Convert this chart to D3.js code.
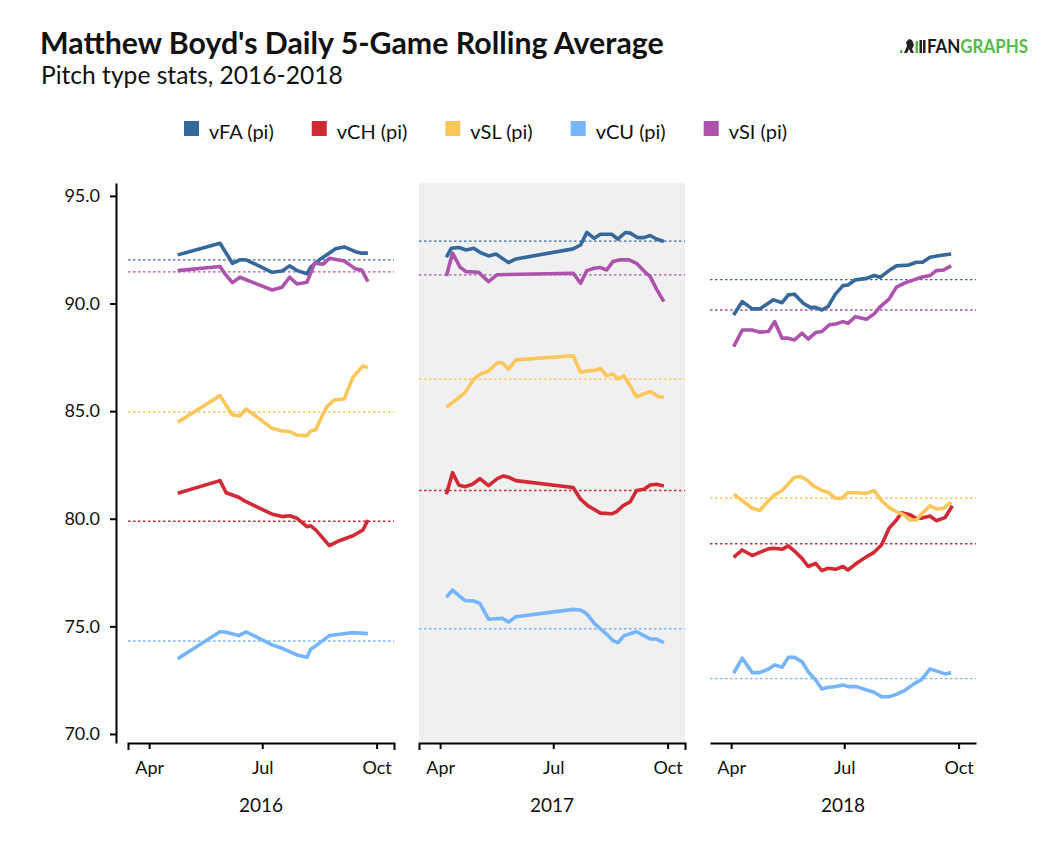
<!DOCTYPE html>
<meta charset="utf-8">
<html>
<head>
<script src="https://d3js.org/d3.v7.min.js"></script>
<style>
  body { margin: 0; background: #fff; }
  svg text { font-family: Lato, "Open Sans", sans-serif; }
  .axis path, .axis line { stroke: #000; stroke-width: 2; }
  .axis text { font-size: 18px; fill: #111; }
</style>
</head>
<body>
<div id="chart"></div>
<script>
// pitch types, in legend order
const pitches = ["FA", "CH", "SL", "CU", "SI"];
const labels = ["vFA (pi)", "vCH (pi)", "vSL (pi)", "vCU (pi)", "vSI (pi)"];
const colors = ["#35689b", "#d12a35", "#fcc65a", "#76b5fa", "#ad53ad"];
const years = [2016, 2017, 2018];
const yTicks = [70, 75, 80, 85, 90, 95];

// 5-game rolling averages
const fa2016 = [["2016-04-24",92.26],["2016-05-28",92.80],["2016-06-07",91.87],["2016-06-13",92.03],["2016-06-18",92.03],["2016-07-09",91.45],["2016-07-17",91.51],["2016-07-23",91.75],["2016-07-29",91.53],["2016-08-06",91.38],["2016-08-09",91.69],["2016-08-16",92.03],["2016-08-29",92.54],["2016-09-05",92.63],["2016-09-14",92.41],["2016-09-19",92.34],["2016-09-24",92.34]];
const ch2016 = [["2016-04-24",81.18],["2016-05-28",81.77],["2016-06-02",81.21],["2016-06-12",81.00],["2016-06-18",80.79],["2016-07-09",80.21],["2016-07-17",80.10],["2016-07-23",80.14],["2016-07-29",80.02],["2016-08-06",79.63],["2016-08-09",79.67],["2016-08-13",79.48],["2016-08-24",78.75],["2016-09-01",78.98],["2016-09-12",79.21],["2016-09-20",79.48],["2016-09-24",79.94]];
const sl2016 = [["2016-04-24",84.48],["2016-05-28",85.72],["2016-06-07",84.82],["2016-06-13",84.78],["2016-06-18",85.10],["2016-07-09",84.20],["2016-07-17",84.08],["2016-07-23",84.05],["2016-07-29",83.89],["2016-08-06",83.86],["2016-08-09",84.08],["2016-08-13",84.13],["2016-08-18",84.75],["2016-08-22",85.21],["2016-08-28",85.52],["2016-09-05",85.57],["2016-09-12",86.58],["2016-09-20",87.10],["2016-09-24",87.02]];
const cu2016 = [["2016-04-24",73.49],["2016-05-28",74.75],["2016-06-01",74.74],["2016-06-12",74.57],["2016-06-18",74.74],["2016-07-09",74.14],["2016-07-17",73.98],["2016-07-29",73.67],["2016-08-06",73.56],["2016-08-09",73.94],["2016-08-13",74.09],["2016-08-24",74.57],["2016-09-01",74.63],["2016-09-12",74.71],["2016-09-24",74.66]];
const si2016 = [["2016-04-24",91.53],["2016-05-28",91.72],["2016-06-01",91.38],["2016-06-07",90.97],["2016-06-13",91.22],["2016-07-09",90.63],["2016-07-17",90.76],["2016-07-23",91.22],["2016-07-29",90.91],["2016-08-06",90.99],["2016-08-09",91.41],["2016-08-12",91.87],["2016-08-19",91.83],["2016-08-24",92.10],["2016-09-05",91.98],["2016-09-14",91.61],["2016-09-19",91.56],["2016-09-24",91.02]];

const fa2017 = [["2017-04-06",92.15],["2017-04-10",92.57],["2017-04-16",92.60],["2017-04-22",92.49],["2017-04-28",92.57],["2017-05-03",92.38],["2017-05-10",92.21],["2017-05-16",92.30],["2017-05-26",91.90],["2017-06-01",92.07],["2017-07-17",92.54],["2017-07-23",92.72],["2017-07-28",93.30],["2017-08-03",93.03],["2017-08-08",93.22],["2017-08-17",93.22],["2017-08-22",92.99],["2017-08-28",93.30],["2017-09-01",93.27],["2017-09-07",93.06],["2017-09-12",93.06],["2017-09-17",93.16],["2017-09-22",93.00],["2017-09-28",92.88]];
const ch2017 = [["2017-04-06",81.14],["2017-04-11",82.14],["2017-04-16",81.57],["2017-04-21",81.49],["2017-04-27",81.60],["2017-05-03",81.86],["2017-05-10",81.54],["2017-05-17",81.86],["2017-05-22",81.99],["2017-05-26",81.93],["2017-06-01",81.77],["2017-07-17",81.45],["2017-07-23",80.91],["2017-07-29",80.60],["2017-08-08",80.26],["2017-08-17",80.23],["2017-08-21",80.33],["2017-08-26",80.60],["2017-09-01",80.79],["2017-09-06",81.31],["2017-09-12",81.37],["2017-09-17",81.57],["2017-09-22",81.60],["2017-09-28",81.52]];
const sl2017 = [["2017-04-06",85.18],["2017-04-12",85.44],["2017-04-21",85.86],["2017-04-28",86.48],["2017-05-03",86.71],["2017-05-10",86.87],["2017-05-17",87.25],["2017-05-21",87.25],["2017-05-26",86.95],["2017-06-01",87.38],["2017-07-17",87.57],["2017-07-23",86.81],["2017-07-29",86.88],["2017-08-03",86.88],["2017-08-08",86.99],["2017-08-13",86.64],["2017-08-18",86.73],["2017-08-22",86.50],["2017-08-27",86.64],["2017-09-06",85.67],["2017-09-17",85.91],["2017-09-24",85.67],["2017-09-28",85.64]];
const cu2017 = [["2017-04-06",76.35],["2017-04-11",76.69],["2017-04-17",76.38],["2017-04-21",76.20],["2017-04-28",76.18],["2017-05-03",76.07],["2017-05-10",75.33],["2017-05-21",75.38],["2017-05-26",75.20],["2017-06-01",75.45],["2017-07-17",75.79],["2017-07-23",75.76],["2017-07-28",75.58],["2017-08-03",75.14],["2017-08-09",74.83],["2017-08-13",74.63],["2017-08-18",74.34],["2017-08-22",74.24],["2017-08-27",74.57],["2017-09-06",74.75],["2017-09-12",74.57],["2017-09-17",74.41],["2017-09-22",74.41],["2017-09-28",74.24]];
const si2017 = [["2017-04-06",91.28],["2017-04-11",92.34],["2017-04-17",91.69],["2017-04-22",91.48],["2017-05-02",91.45],["2017-05-10",91.02],["2017-05-17",91.34],["2017-07-17",91.41],["2017-07-23",90.94],["2017-07-28",91.53],["2017-08-03",91.64],["2017-08-08",91.67],["2017-08-13",91.56],["2017-08-18",91.95],["2017-08-24",92.03],["2017-08-31",92.03],["2017-09-06",91.87],["2017-09-12",91.51],["2017-09-17",91.25],["2017-09-22",90.68],["2017-09-28",90.09]];

const fa2018 = [["2018-04-03",89.47],["2018-04-10",90.09],["2018-04-18",89.75],["2018-04-24",89.75],["2018-04-30",89.98],["2018-05-05",90.17],["2018-05-12",90.04],["2018-05-17",90.40],["2018-05-22",90.43],["2018-05-29",90.01],["2018-06-04",89.81],["2018-06-08",89.82],["2018-06-13",89.70],["2018-06-18",89.86],["2018-06-24",90.45],["2018-06-30",90.83],["2018-07-04",90.86],["2018-07-10",91.10],["2018-07-19",91.17],["2018-07-25",91.30],["2018-07-30",91.22],["2018-08-06",91.53],["2018-08-12",91.75],["2018-08-22",91.79],["2018-08-28",91.92],["2018-09-02",91.92],["2018-09-08",92.15],["2018-09-16",92.23],["2018-09-25",92.30]];
const ch2018 = [["2018-04-03",78.21],["2018-04-10",78.55],["2018-04-18",78.29],["2018-04-24",78.44],["2018-05-01",78.60],["2018-05-06",78.63],["2018-05-12",78.58],["2018-05-17",78.74],["2018-05-22",78.50],["2018-05-28",78.16],["2018-06-02",77.78],["2018-06-08",77.93],["2018-06-13",77.59],["2018-06-18",77.70],["2018-06-24",77.65],["2018-06-30",77.78],["2018-07-04",77.62],["2018-07-11",77.93],["2018-07-19",78.24],["2018-07-25",78.44],["2018-07-31",78.78],["2018-08-06",79.55],["2018-08-12",79.94],["2018-08-16",80.28],["2018-08-23",80.18],["2018-08-28",80.02],["2018-09-01",80.02],["2018-09-08",80.13],["2018-09-13",79.91],["2018-09-20",80.05],["2018-09-26",80.60]];
const sl2018 = [["2018-04-03",81.14],["2018-04-10",80.84],["2018-04-18",80.49],["2018-04-24",80.38],["2018-05-01",80.83],["2018-05-06",81.11],["2018-05-12",81.31],["2018-05-17",81.62],["2018-05-22",81.93],["2018-05-27",81.96],["2018-06-01",81.80],["2018-06-06",81.54],["2018-06-13",81.31],["2018-06-18",81.23],["2018-06-24",80.95],["2018-06-29",80.95],["2018-07-04",81.21],["2018-07-11",81.21],["2018-07-19",81.18],["2018-07-25",81.31],["2018-07-31",80.84],["2018-08-06",80.53],["2018-08-12",80.33],["2018-08-18",80.18],["2018-08-23",79.94],["2018-08-28",79.94],["2018-09-01",80.21],["2018-09-08",80.60],["2018-09-13",80.46],["2018-09-19",80.49],["2018-09-25",80.77]];
const cu2018 = [["2018-04-03",72.82],["2018-04-10",73.52],["2018-04-18",72.85],["2018-04-24",72.85],["2018-05-01",73.01],["2018-05-06",73.21],["2018-05-12",73.10],["2018-05-17",73.56],["2018-05-22",73.56],["2018-05-28",73.36],["2018-06-02",72.89],["2018-06-08",72.51],["2018-06-13",72.09],["2018-06-18",72.17],["2018-06-24",72.20],["2018-06-30",72.28],["2018-07-04",72.20],["2018-07-11",72.20],["2018-07-19",72.04],["2018-07-25",71.94],["2018-07-31",71.73],["2018-08-06",71.73],["2018-08-12",71.84],["2018-08-18",72.00],["2018-08-23",72.20],["2018-08-28",72.40],["2018-09-01",72.51],["2018-09-08",73.02],["2018-09-13",72.93],["2018-09-20",72.79],["2018-09-25",72.85]];
const si2018 = [["2018-04-03",88.00],["2018-04-10",88.77],["2018-04-18",88.77],["2018-04-24",88.67],["2018-05-01",88.70],["2018-05-06",89.16],["2018-05-12",88.39],["2018-05-17",88.39],["2018-05-22",88.31],["2018-05-28",88.62],["2018-06-02",88.35],["2018-06-08",88.65],["2018-06-13",88.70],["2018-06-19",89.01],["2018-06-24",89.05],["2018-06-30",89.16],["2018-07-04",89.08],["2018-07-10",89.39],["2018-07-19",89.27],["2018-07-25",89.52],["2018-07-30",89.86],["2018-08-06",90.20],["2018-08-12",90.76],["2018-08-18",90.94],["2018-08-26",91.10],["2018-09-01",91.22],["2018-09-08",91.30],["2018-09-13",91.53],["2018-09-19",91.56],["2018-09-25",91.75]];

// season averages per pitch (FA, CH, SL, CU, SI)
const avg2016 = [92.03, 79.88, 84.96, 74.32, 91.47];
const avg2017 = [92.90, 81.31, 86.48, 74.89, 91.33];
const avg2018 = [91.11, 78.84, 80.95, 72.57, 89.70];

const seriesByYear = {
  2016: [fa2016, ch2016, sl2016, cu2016, si2016],
  2017: [fa2017, ch2017, sl2017, cu2017, si2017],
  2018: [fa2018, ch2018, sl2018, cu2018, si2018]
};
const avgByYear = {2016: avg2016, 2017: avg2017, 2018: avg2018};

const W = 1056, H = 862;
const panelLefts = [128, 419, 710], panelW = 266;
const plotTop = 183, plotBottom = 743;

const svg = d3.select("#chart").append("svg")
    .attr("width", W).attr("height", H);

// titles
svg.append("text").attr("x", 40).attr("y", 54)
    .style("font-size", "30.3px").style("font-weight", 700).attr("fill", "#111")
    .text("Matthew Boyd's Daily 5-Game Rolling Average");
svg.append("text").attr("x", 41).attr("y", 84)
    .style("font-size", "24.6px").attr("fill", "#111")
    .text("Pitch type stats, 2016-2018");

// fangraphs mark
const logo = svg.append("g");
logo.append("rect").attr("x", 900).attr("y", 50).attr("width", 2.5).attr("height", 3).attr("fill", "#55b849");
logo.append("path").attr("d", "M904,53 L907,46 L906,42 L909,39 L912,40 L914,45 L912,49 L914,53 L911,53 L909,49 L907,53 Z").attr("fill", "#222");
logo.append("rect").attr("x", 915.5).attr("y", 41).attr("width", 2.5).attr("height", 12).attr("fill", "#55b849");
logo.append("rect").attr("x", 919.5).attr("y", 40).attr("width", 2.5).attr("height", 13).attr("fill", "#222");
logo.append("rect").attr("x", 923).attr("y", 40).attr("width", 2.5).attr("height", 13).attr("fill", "#222");
const lt = logo.append("text").attr("x", 927).attr("y", 53)
    .attr("textLength", 101).attr("lengthAdjust", "spacingAndGlyphs")
    .style("font-size", "18px").style("font-weight", 700);
lt.append("tspan").attr("fill", "#1a1a1a").text("FAN");
lt.append("tspan").attr("fill", "#55b849").text("GRAPHS");

// legend
const legend = svg.append("g");
let lx = 184;
labels.forEach((lab, i) => {
  legend.append("rect").attr("x", lx).attr("y", 121).attr("width", 15).attr("height", 15).attr("fill", colors[i]);
  const t = legend.append("text").attr("x", lx + 25).attr("y", 138.5)
      .style("font-size", "20px").attr("fill", "#111").text(lab);
  lx += 25 + t.node().getComputedTextLength() + 38;
});

// shared y scale
const y = d3.scaleLinear().domain([69.58, 95.6]).range([plotBottom, plotTop]);

const parse = d3.timeParse("%Y-%m-%d");

years.forEach((yr, p) => {
  const left = panelLefts[p];
  const x = d3.scaleTime()
      .domain([new Date(yr, 2, 15), new Date(yr, 9, 15)])
      .range([left, left + panelW]);

  if (yr === 2017) {
    svg.append("rect").attr("x", left).attr("y", plotTop)
        .attr("width", panelW).attr("height", plotBottom - plotTop).attr("fill", "#f0f0f0");
  }

  const g = svg.append("g");
  // season average dotted lines
  avgByYear[yr].forEach((v, i) => {
    g.append("line")
      .attr("x1", x.range()[0]).attr("x2", x.range()[1])
      .attr("y1", y(v)).attr("y2", y(v))
      .attr("stroke", colors[i]).attr("stroke-width", 1.4)
      .attr("stroke-dasharray", "2.5,2.5");
  });

  const line = d3.line().x(d => x(parse(d[0]))).y(d => y(d[1]));
  seriesByYear[yr].forEach((data, i) => {
    g.append("path").datum(data)
      .attr("fill", "none")
      .attr("stroke", colors[i])
      .attr("stroke-width", 3.6)
      .attr("stroke-linejoin", "round")
      .attr("d", line);
  });

  svg.append("g").attr("class", "axis")
      .attr("transform", `translate(0,${plotBottom})`)
      .call(d3.axisBottom(x)
        .tickValues([new Date(yr, 3, 1), new Date(yr, 6, 1), new Date(yr, 9, 1)])
        .tickFormat(d3.timeFormat("%b"))
        .tickSize(6).tickSizeOuter(yr === 2018 ? 0 : 7).tickPadding(12));

  svg.append("text")
      .attr("x", left + panelW / 2).attr("y", 812)
      .attr("text-anchor", "middle")
      .style("font-size", "19px").attr("fill", "#111")
      .text(yr);
});

svg.append("g").attr("class", "axis")
    .attr("transform", "translate(116,0)")
    .call(d3.axisLeft(y).tickValues(yTicks).tickFormat(d3.format(".1f"))
      .tickSize(6).tickSizeOuter(0).tickPadding(10));
</script>
</body>
</html>
